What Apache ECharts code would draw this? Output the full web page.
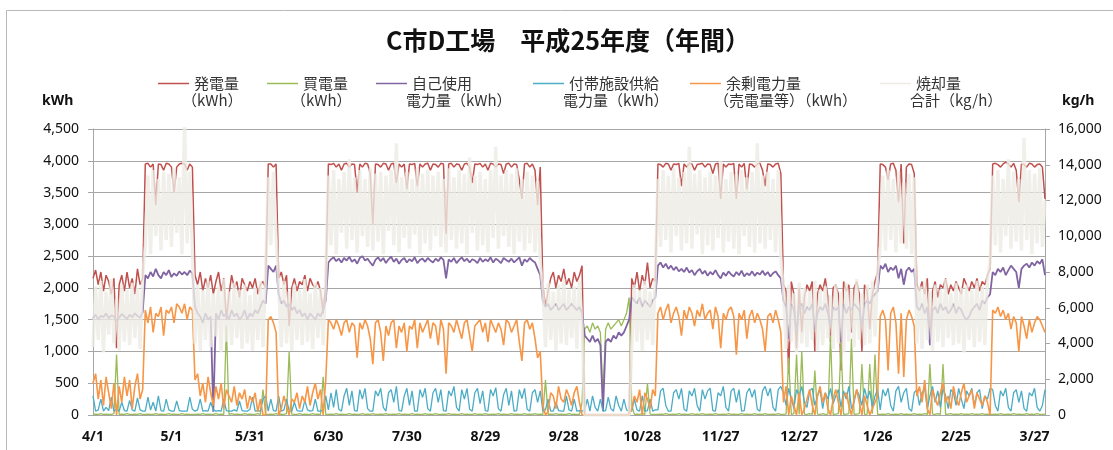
<!DOCTYPE html>
<html>
<head>
<meta charset="utf-8">
<title>C市D工場 平成25年度（年間）</title>
<script src="https://cdn.jsdelivr.net/npm/echarts@6.0.0/dist/echarts.min.js"></script>
<style>
    html, body { margin: 0; padding: 0; background: #fff; }
    #chart { width: 1113px; height: 450px; }
</style>
</head>
<body>
<div id="chart"></div>
<script>
// 日別の読み取り値 (4/1 から 365 日)
var tickLabels = ['4/1','5/1','5/31','6/30','7/30','8/29','9/28','10/28','11/27','12/27','1/26','2/25','3/27'];

// 発電量 (kWh)
var genKwh = [
    2150,2280,2050,2250,1950,2200,2100,1900,2150,1050,2050,2200,1950,2250,2000,2150,1900,2300,2050,2150,
    3950,3960,3900,3950,3300,3950,3940,3850,3960,3950,3900,3500,3900,3950,3960,3950,3850,3950,3900,
    2200,2050,2250,1950,2150,2000,2200,1900,2100,2250,1950,2150,1500,1900,2200,2000,2100,1850,2150,2050,1950,2100,2000,2150,1900,2050,2100,2000,
    3950,3950,3900,3950,
    2150,2250,2050,2200,1400,2000,2150,1950,2100,2050,2200,1950,2150,2050,2000,2100,1950,1600,2050,
    3950,3940,3960,3900,3950,3850,3950,3960,3900,3950,
    3940,3500,3950,3900,3960,3950,3800,3000,3950,3940,
    3900,3960,3950,3850,3950,3960,3650,3950,3900,3950,
    3550,3950,3940,3960,3600,3950,3900,3950,3960,3850,
    3950,3940,3900,3960,3950,2850,3950,3960,3900,3950,
    3940,3850,3950,3960,3900,3650,3950,3940,3960,3900,
    3950,3850,3960,3950,3900,3950,3940,3800,3950,3960,
    3900,3950,3940,3700,3400,3950,3960,3900,3950,3850,
    3300,3900,
    2050,1700,1950,2150,2250,2000,2200,2100,2300,2050,2150,2000,2250,2100,2200,2350,
    0,0,0,0,0,0,0,0,0,0,0,0,0,0,0,0,0,0,
    2150,2000,2250,1950,2200,2050,2400,2000,2150,2100,
    3950,3940,3900,3960,3950,3850,3950,3940,3960,3600,
    3950,3900,3960,3950,3850,3940,3950,3960,3900,3950,
    3940,3800,3950,3960,3400,3950,3900,3950,3940,3960,
    3400,3950,3900,3960,3550,3950,3940,3900,3950,3960,
    3850,3600,3950,3940,3900,3950,3960,3800,
    2050,1950,650,2100,1900,1050,2000,1300,1850,2050,
    1950,2100,1000,1900,2050,1950,2150,1850,1150,2000,
    2050,1900,700,2100,1950,2050,1300,2000,2100,1900,
    1000,2050,1950,1350,1900,2100,2250,
    3950,3940,3900,3700,3950,3960,3850,3350,3950,2700,3900,3950,3940,3800,
    2050,1950,2100,1900,2150,1200,1950,2100,1850,2050,
    2000,2150,1900,2050,1950,2100,2000,1900,2150,2050,
    1950,2100,2000,2150,1950,2100,2050,2200,2300,
    3950,3960,3940,3900,3950,3980,3950,3900,3960,3850,3350,3950,3940,3900,3960,3950,3900,3940,3950,3900,3400
];

// 買電量 (kWh)
var buyKwh = [
    10,15,10,20,10,15,10,10,20,950,10,15,10,20,10,10,15,10,20,10,
    10,15,10,10,20,10,15,10,10,20,10,15,10,10,20,10,15,10,10,
    10,15,10,20,10,15,10,10,20,10,15,10,1400,10,20,10,15,10,10,20,10,15,10,10,20,10,400,10,
    10,15,10,20,
    10,15,10,20,1000,15,10,10,20,10,15,10,10,20,10,15,10,600,10,
    10,15,10,20,10,15,10,10,20,10,
    15,10,10,20,10,15,10,20,10,10,
    15,10,20,10,10,15,10,20,10,15,
    10,10,20,10,15,10,10,20,10,15,
    10,20,10,10,15,10,20,10,15,10,
    10,20,10,15,10,10,20,10,15,10,
    20,10,10,15,10,20,10,15,10,10,
    20,10,15,10,10,20,10,15,10,20,
    10,15,
    10,550,10,15,10,20,10,15,10,10,20,10,15,10,10,200,
    1350,1400,1300,1450,1350,1400,1300,300,1350,1450,1350,1400,1450,1500,1400,1500,1600,1850,
    150,10,15,10,20,10,500,15,10,10,
    10,15,10,20,10,10,15,10,20,10,
    15,10,10,20,10,15,10,20,10,10,
    15,10,20,10,10,15,10,20,10,15,
    10,10,20,10,15,10,10,20,10,15,
    10,20,10,10,15,10,20,10,
    10,15,900,10,20,950,10,1000,15,10,
    20,10,700,15,10,20,10,15,1250,10,
    15,20,1150,10,15,20,1200,10,15,20,
    800,10,15,800,20,950,10,
    10,15,10,20,10,10,15,10,20,10,15,10,10,20,
    10,15,10,20,10,800,15,10,20,10,
    800,10,15,20,10,15,10,20,10,15,
    10,20,10,15,10,20,10,15,10,
    10,15,10,20,10,10,15,10,20,10,15,10,10,20,10,15,10,20,10,10,15
];

// 自己使用電力量 (kWh)
var selfKwh = [
    1520,1580,1500,1560,1540,1600,1520,1570,1550,1480,1530,1590,1550,1510,1580,1540,1600,1560,1530,1620,
    2200,2150,2250,2180,2300,2200,2150,2250,2200,2280,2170,2230,2190,2260,2210,2250,2200,2270,2230,
    1700,1600,1550,1450,1600,1500,1550,50,1600,1500,1650,1550,1600,1500,1650,1550,1600,1500,1550,1650,1500,1600,1550,1650,1600,1700,1800,1750,
    2350,2300,2250,2350,
    1900,1750,1800,1700,1750,1650,1700,1600,1650,1550,1600,1500,1600,1550,1500,1600,1550,1650,1800,
    2400,2450,2480,2420,2460,2400,2470,2430,2490,2410,
    2450,2380,2470,2500,2430,2460,2400,2350,2440,2480,
    2420,2470,2390,2450,2490,2410,2460,2380,2440,2470,
    2400,2450,2420,2480,2390,2440,2460,2410,2470,2430,
    2400,2460,2420,2480,2440,2150,2450,2410,2470,2390,
    2440,2480,2420,2460,2400,2450,2430,2390,2470,2410,
    2450,2420,2480,2400,2460,2430,2390,2470,2440,2410,
    2460,2400,2440,2480,2350,2450,2410,2470,2430,2400,
    2300,2200,
    1800,1700,1750,1650,1700,1750,1650,1700,1750,1650,1700,1750,1700,1650,1700,1600,
    1250,1200,1150,1250,1150,1200,1100,60,1150,1200,1150,1250,1200,1300,1250,1300,1400,1500,
    1850,1800,1750,1850,1700,1800,1750,1700,1800,1850,
    2350,2400,2320,2380,2300,2350,2280,2330,2260,2300,
    2250,2320,2240,2280,2200,2260,2300,2220,2270,2190,
    2250,2210,2280,2200,2150,2240,2190,2260,2210,2180,
    2250,2200,2270,2180,2230,2200,2260,2190,2240,2210,
    2270,2200,2250,2180,2230,2260,2200,2150,
    1800,1700,1200,1750,1650,1300,1700,1750,1600,1700,
    1650,1750,1350,1600,1700,1650,1750,1600,1400,1700,
    1650,1700,1150,1750,1600,1700,1650,1750,1700,1650,
    1400,1750,1800,1750,1850,1900,1950,
    2350,2300,2380,2250,2320,2280,2350,2150,2300,2050,2270,2320,2250,2300,
    1700,1650,1750,1600,1700,1100,1650,1700,1600,1750,
    1650,1700,1600,1650,1750,1600,1700,1650,1550,1500,
    1550,1650,1700,1750,1650,1800,1750,1850,1900,
    2250,2200,2300,2250,2320,2200,2280,2350,2300,2250,2000,2300,2350,2380,2320,2400,2350,2420,2380,2450,2200
];

// 付帯施設供給電力量 (kWh)
var facKwh = [
    300,60,80,250,60,120,70,280,60,90,60,200,70,60,230,80,60,270,80,60,
    60,280,80,200,60,300,70,60,250,80,60,60,220,70,60,60,60,280,90,
    60,80,250,60,70,60,200,80,60,70,60,250,70,60,60,80,60,220,70,60,60,90,280,60,70,60,250,300,
    60,250,70,60,
    300,60,80,250,60,60,200,70,60,60,230,80,60,70,250,60,60,80,300,
    80,350,120,400,90,60,300,420,150,380,
    70,60,400,250,420,100,60,60,380,300,
    420,120,60,350,400,200,450,70,60,300,
    420,150,380,60,60,400,280,420,100,60,
    350,420,200,400,70,60,380,300,450,120,
    60,400,250,420,90,60,350,420,180,380,
    70,60,400,300,430,100,60,320,420,150,
    380,60,70,400,260,420,90,60,350,400,
    200,380,
    60,80,250,60,60,200,70,60,60,300,80,60,250,60,70,60,
    80,250,60,300,120,60,250,60,70,280,100,60,300,150,60,250,80,60,
    60,250,80,60,300,60,70,250,60,80,
    80,380,420,150,60,60,350,400,250,420,
    90,60,380,300,420,150,60,400,250,380,
    420,70,60,350,300,450,120,60,380,420,
    200,400,60,70,350,420,280,400,90,60,
    380,450,300,420,120,60,400,450,
    350,150,420,250,100,400,300,450,200,120,
    380,420,150,300,400,100,350,250,420,180,
    300,400,120,380,250,450,100,200,400,300,
    150,420,250,380,120,300,400,
    80,400,300,420,150,60,380,450,200,350,420,100,60,350,
    400,150,350,420,100,300,450,200,380,120,
    420,300,100,400,350,150,420,250,100,380,
    300,420,150,350,400,100,300,250,420,
    400,150,60,380,300,420,120,60,350,400,200,380,100,60,350,300,420,120,60,150,400
];

// 余剰電力量（売電量等）(kWh)
var surplusKwh = [
    500,650,250,550,150,600,350,100,500,0,450,200,600,300,550,100,450,650,250,400,
    1650,1450,1700,1300,1600,1550,1700,1250,1650,1600,1700,1450,1750,1700,1600,1750,1500,1700,1650,
    550,650,300,500,200,600,350,150,450,250,500,100,400,300,200,450,150,350,250,400,100,300,200,350,50,250,0,0,
    1500,1550,1450,1300,
    0,100,300,150,0,250,200,350,100,300,200,450,150,350,500,250,400,0,550,
    1500,1450,1350,1500,1400,1250,1450,1500,1300,1450,
    1400,900,1450,1350,1500,1400,1200,800,1450,1500,
    1300,850,1400,1250,1450,1500,1050,1400,1300,1450,
    1000,1400,1350,1500,1050,1450,1300,1400,1500,1200,
    1450,1400,1100,1500,1350,650,1450,1400,1300,1500,
    1350,1200,1450,1500,1250,1000,1400,1450,1500,1300,
    1450,1150,1500,1400,1300,1450,1350,1100,1500,1450,
    1300,1400,1500,1150,850,1450,1500,1350,1450,1200,
    900,1000,
    150,0,50,350,300,100,450,250,200,400,300,150,350,450,200,0,
    0,0,0,0,0,0,0,0,0,0,0,0,0,0,0,0,0,0,
    100,300,200,400,0,350,250,100,400,300,
    1600,1700,1500,1650,1750,1450,1600,1700,1550,1250,
    1650,1500,1700,1600,1400,1650,1550,1750,1500,1600,
    1650,1350,1700,1550,1050,1600,1500,1650,1700,1550,
    950,1600,1500,1650,1200,1550,1650,1450,1600,1500,
    1350,1000,1550,1600,1450,1650,1500,1300,
    200,450,0,300,150,0,350,0,100,250,
    400,150,0,300,450,200,350,100,0,250,
    400,200,0,300,350,150,0,250,400,200,
    0,300,150,0,100,200,300,
    1550,1650,1500,700,1600,1700,1450,650,1600,600,1500,1650,1550,1400,
    300,450,200,550,100,0,400,250,150,350,
    500,200,300,100,450,250,150,350,500,200,
    300,400,100,350,250,150,300,200,0,
    1650,1600,1700,1550,1650,1500,1600,1350,1550,1450,1000,1550,1400,1200,1500,1300,1450,1550,1500,1400,1300
];

// 焼却量合計 (kg/h)
var burnKgh = [
    3800,7200,4200,7500,3500,6900,4500,7600,4000,6500,3600,7300,4100,7000,3900,7400,4300,7100,3700,7800,
    9500,13400,9000,13700,10000,13200,9200,13600,9800,13500,9400,13800,10200,13300,9000,16500,9600,13600,9300,
    4000,7300,3600,7000,4200,7500,3800,6800,4400,7200,3500,7600,4100,6900,3900,7400,4300,7000,3700,7300,4000,6700,3600,7100,4200,7500,3800,7900,
    13300,9500,13600,10000,
    7200,3800,7500,4000,6900,3600,7300,4200,7000,3900,7600,4100,6800,3700,7400,4300,7100,3900,7700,
    13400,9500,13700,9000,13200,10200,13600,9300,14300,9800,
    13300,9100,13700,10000,13200,9400,13800,9200,13500,9700,
    13600,9000,13400,10300,13700,9500,15200,9100,13300,9900,
    13600,9300,13200,10100,13800,9000,13500,9600,13700,9200,
    13400,10000,13600,9400,13200,9100,13800,9800,13300,9300,
    13700,9600,13500,9000,14400,10200,13400,9200,13600,9500,
    13200,9100,13700,9900,15000,9300,13400,10000,13700,9400,
    13500,9000,13800,9700,13200,9200,13600,9600,13400,9100,
    13100,8500,
    7100,3800,7400,4200,6900,3600,7300,4000,7600,3900,7000,4300,7200,3700,7500,5000,
    0,0,0,0,0,0,0,0,0,0,0,0,0,0,0,0,0,0,
    3800,7300,4100,7000,3600,7500,4200,6900,3900,7800,
    13200,9400,13700,9800,13400,9100,13800,10000,13300,9200,
    13600,9600,15000,9300,13500,10100,13700,9000,13300,9500,
    13600,9200,13400,9900,14200,9100,13200,9700,13600,9300,
    13500,9000,13700,10000,13300,9400,13600,9100,15200,9600,
    13400,9300,13600,9800,13200,9100,13700,8800,
    7000,3700,7300,4100,6800,3500,7400,4000,7100,3800,
    6900,4200,7500,3600,7000,3900,7200,4300,6700,3700,
    7300,4000,6900,3500,7400,4100,7000,3800,7600,4200,
    6800,3900,7300,4000,7500,4400,7900,
    9500,13400,9200,13700,9800,13200,9100,13600,9600,13000,9300,13500,9000,13300,
    4000,7200,3700,7500,4200,6900,3600,7300,4100,7000,
    3800,7600,4300,6800,3900,7400,4000,7100,3500,7300,
    4200,7000,3800,7500,4100,7200,3900,7700,8500,
    13400,9500,13700,9100,13200,10000,14300,9300,13600,9700,13200,9200,15500,9800,13700,9000,13500,9600,13800,9400,12000
];

var seriesNames = ['発電量', '買電量', '自己使用', '付帯施設供給', '余剰電力量', '焼却量'];
var seriesUnits = ['（kWh）', '（kWh）', '電力量（kWh）', '電力量（kWh）', '（売電量等）（kWh）', '合計（kg/h）'];
var seriesColors = ['#c0504d', '#9bbb59', '#8064a2', '#4bacc6', '#f79646', '#ecebe4'];
var seriesWidths = [1.5, 1.3, 1.8, 1.3, 1.6, 3.4];
var seriesData = [genKwh, buyKwh, selfKwh, facKwh, surplusKwh, burnKgh];

seriesData.forEach(function(arr, i){
    if(arr.length !== 365){
        throw new Error(seriesNames[i] + ' length ' + arr.length);
    }
});

var days = [];
for(var i = 0; i < 365; i++){
    days.push(i);
}

var jpFont = '"Noto Sans CJK JP", sans-serif';
var numFont = '"Noto Sans", "Noto Sans CJK JP", sans-serif';
var legendLeft = [153, 262, 371, 528, 685, 875];

var chart = echarts.init(document.getElementById('chart'));

var legends = [];
var graphics = [
    { type: 'rect', shape: { x: 6.5, y: 10.5, width: 1130, height: 460 },
      style: { fill: 'none', stroke: '#b8b8b8', lineWidth: 1 }, silent: true },
    { type: 'text', left: 42, top: 94,
      style: { text: 'kWh', font: 'bold 14px ' + numFont, fill: '#111' } },
    { type: 'text', left: 1062, top: 94,
      style: { text: 'kg/h', font: 'bold 14px ' + numFont, fill: '#111' } }
];
for(var k = 0; k < seriesNames.length; k++){
    legends.push({
        data: [seriesNames[k]],
        left: legendLeft[k],
        top: 71,
        icon: 'rect',
        itemWidth: 31,
        itemHeight: 1.5,
        selectedMode: false,
        textStyle: { fontSize: 15, color: '#333', fontFamily: jpFont }
    });
    // 全角括弧の余白ぶん左へ寄せる
    var shift = seriesUnits[k].charAt(0) === '（' ? -6 : 0;
    graphics.push({
        type: 'text',
        left: legendLeft[k] + 35 + shift,
        top: 93,
        style: { text: seriesUnits[k], font: '15px ' + jpFont, fill: '#333' }
    });
}

var series = seriesData.map(function(arr, i){
    var last = (i === 5);
    return {
        name: seriesNames[i],
        type: 'line',
        data: arr,
        yAxisIndex: last ? 1 : 0,
        symbol: 'none',
        showSymbol: false,
        silent: true,
        lineStyle: {
            color: seriesColors[i],
            width: seriesWidths[i],
            opacity: last ? 0.8 : 1
        },
        itemStyle: { color: seriesColors[i] }
    };
});

var option = {
    animation: false,
    backgroundColor: '#fff',
    title: {
        text: 'C市D工場　平成25年度（年間）',
        left: 563,
        top: 23,
        textAlign: 'center',
        textStyle: { fontSize: 25, fontWeight: 'bold', color: '#111', fontFamily: jpFont }
    },
    legend: legends,
    graphic: graphics,
    grid: { left: 93, right: 68, top: 129, bottom: 35, containLabel: false },
    xAxis: {
        type: 'category',
        data: days,
        boundaryGap: false,
        axisLine: { lineStyle: { color: '#a6a6a6' } },
        axisTick: { show: false },
        splitLine: { show: false },
        axisLabel: {
            interval: function(index){ return index % 30 === 0; },
            formatter: function(value, index){ return tickLabels[index / 30] || ''; },
            margin: 15,
            fontSize: 14,
            fontWeight: 'bold',
            color: '#111',
            fontFamily: numFont
        }
    },
    yAxis: [
        {
            type: 'value',
            min: 0,
            max: 4500,
            interval: 500,
            axisLine: { show: true, lineStyle: { color: '#a6a6a6' } },
            axisTick: { show: true, length: 5, lineStyle: { color: '#a6a6a6' } },
            splitLine: { lineStyle: { color: '#a6a6a6', width: 1 } },
            axisLabel: { fontSize: 14, color: '#111', margin: 14, fontFamily: numFont }
        },
        {
            type: 'value',
            position: 'right',
            min: 0,
            max: 16000,
            interval: 2000,
            axisLine: { show: true, lineStyle: { color: '#a6a6a6' } },
            axisTick: { show: true, length: 5, lineStyle: { color: '#a6a6a6' } },
            splitLine: { show: false },
            axisLabel: { fontSize: 14, color: '#111', margin: 13, fontFamily: numFont }
        }
    ],
    series: series
};

chart.setOption(option);
</script>
</body>
</html>
